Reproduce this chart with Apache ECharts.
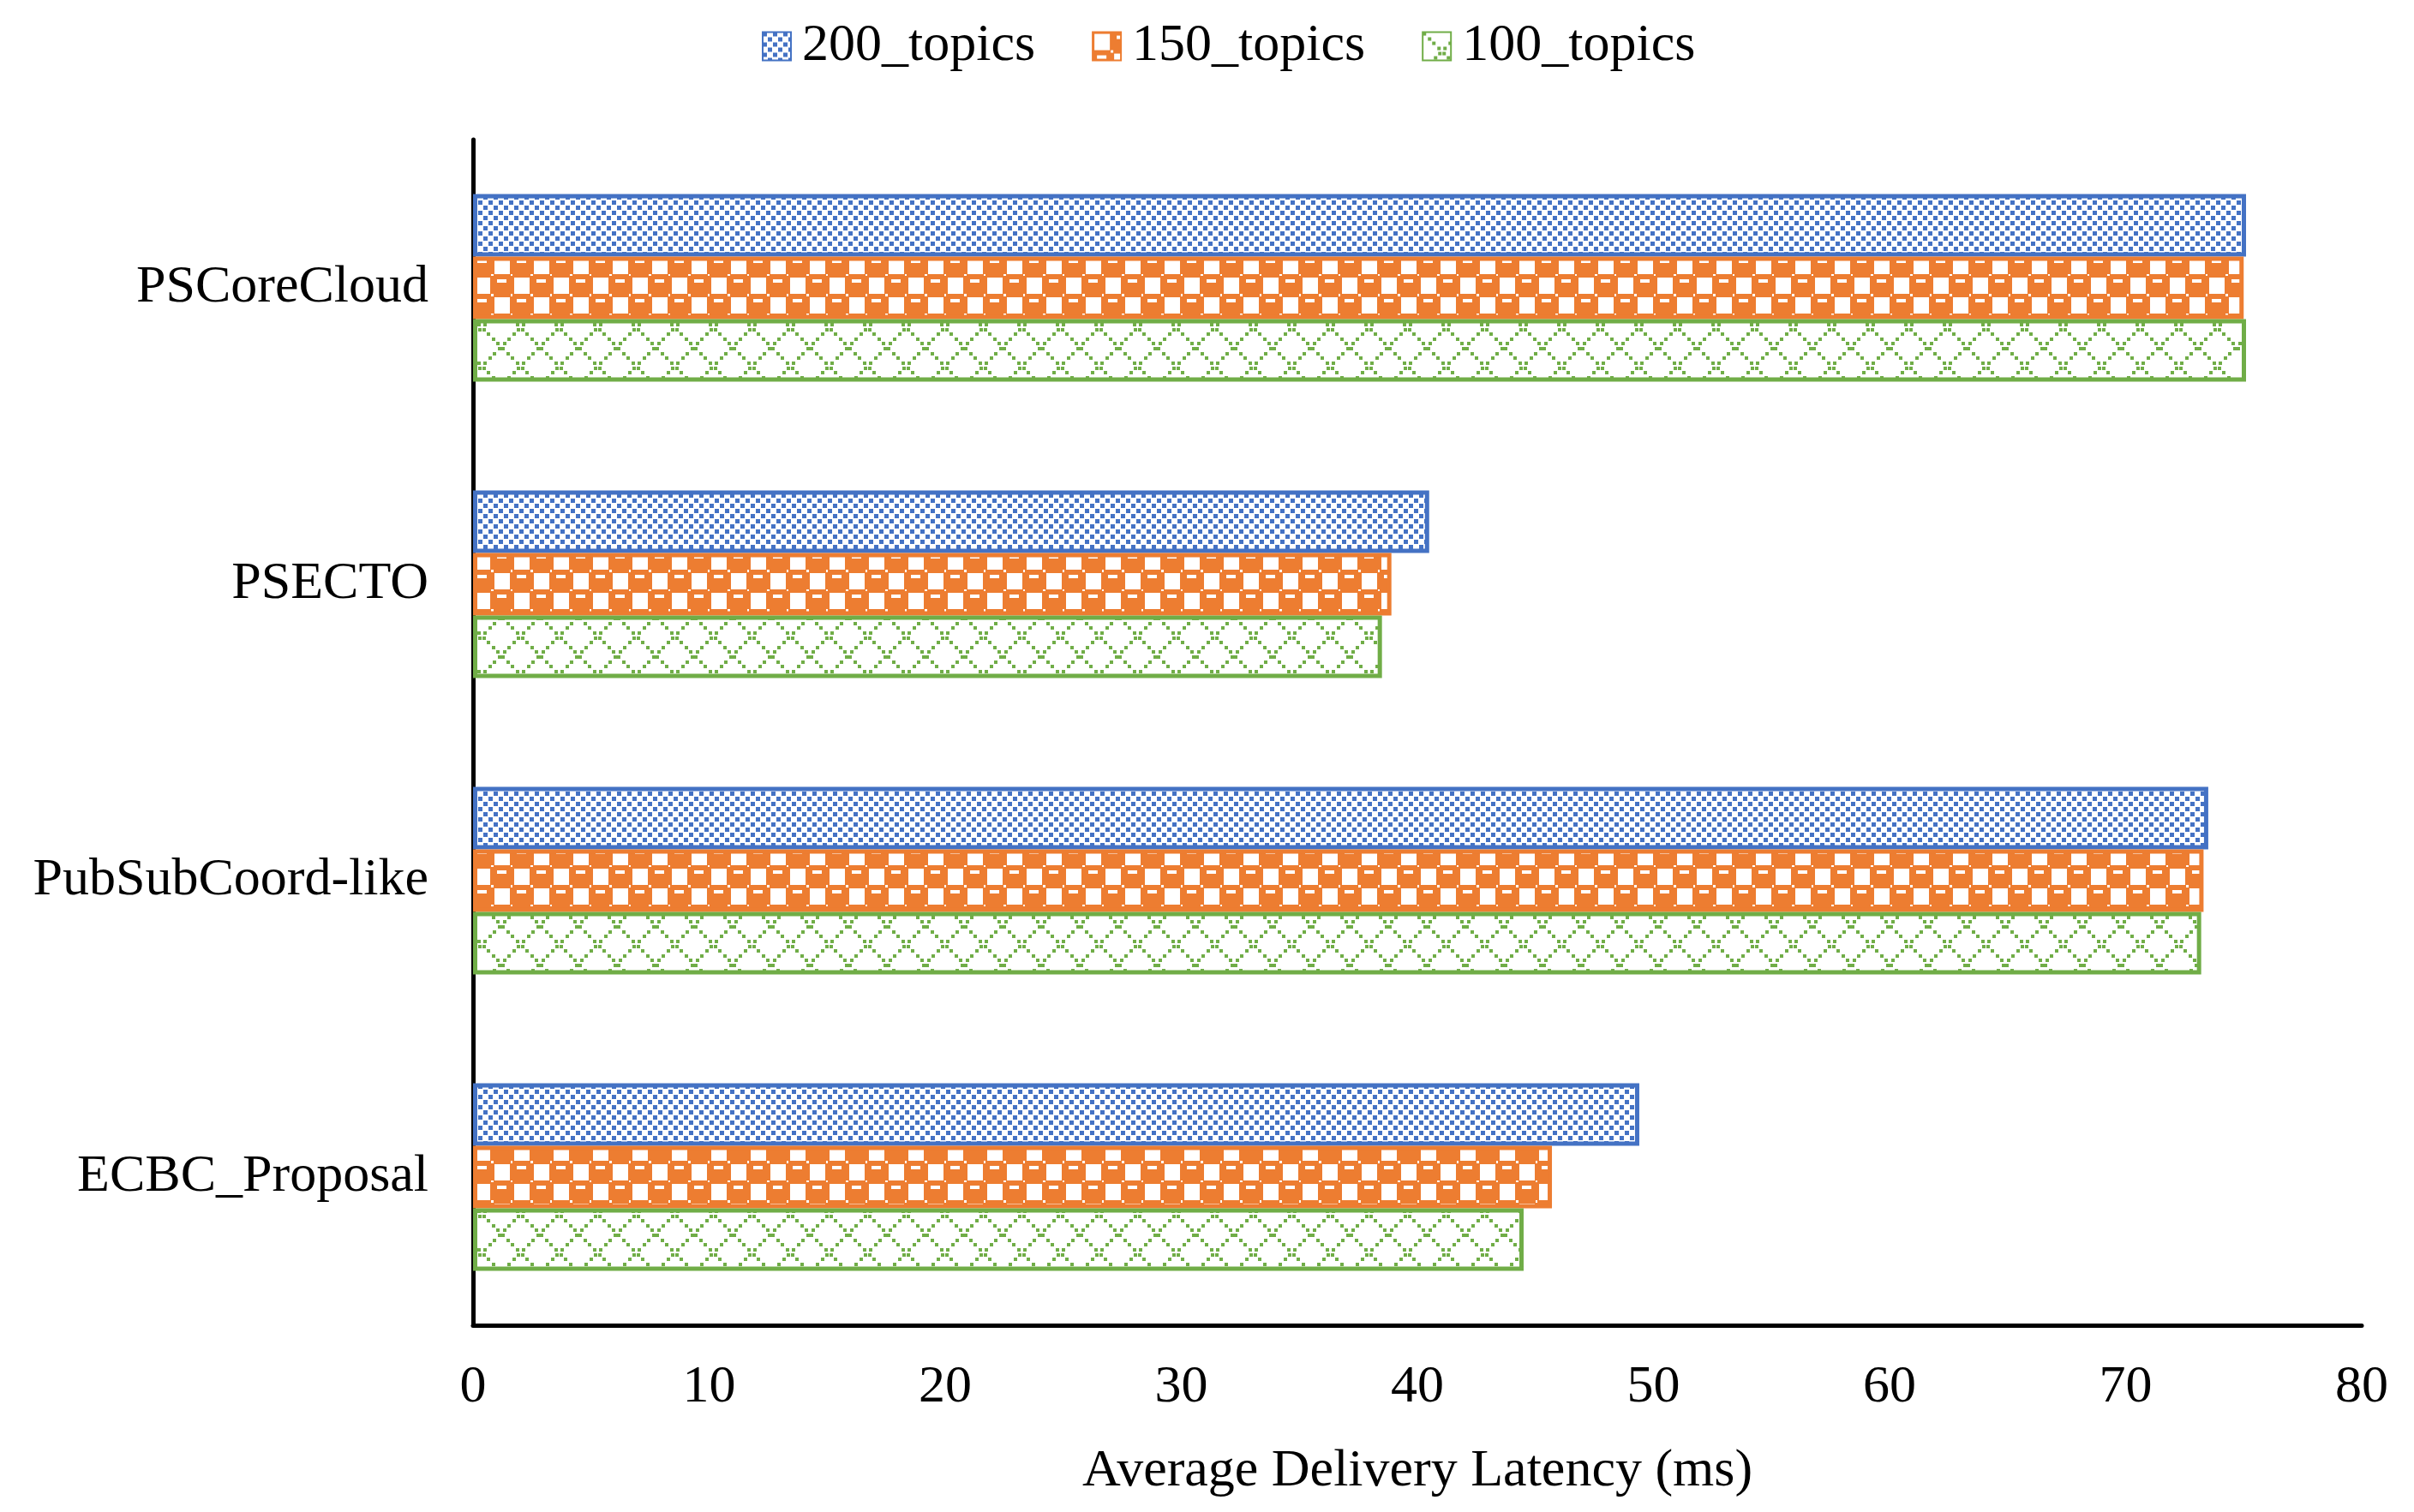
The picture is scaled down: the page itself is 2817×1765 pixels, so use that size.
<!DOCTYPE html>
<html>
<head>
<meta charset="utf-8">
<script src="https://cdn.jsdelivr.net/npm/echarts@6/dist/echarts.min.js"></script>
<style>
html,body{margin:0;padding:0;background:#fff;}
#chart{width:2817px;height:1765px;}
</style>
</head>
<body>
<div id="chart"></div>
<script>
// ---- data ----
const categories = ['PSCoreCloud', 'PSECTO', 'PubSubCoord-like', 'ECBC_Proposal'];
const seriesNames = ['200_topics', '150_topics', '100_topics'];
const topics200 = [75.1, 40.5, 73.5, 49.4];
const topics150 = [75.0, 38.9, 73.3, 45.7];
const topics100 = [75.1, 38.5, 73.2, 44.5];
const xTicks = [0, 10, 20, 30, 40, 50, 60, 70, 80];
const xAxisTitle = 'Average Delivery Latency (ms)';

// ---- patterns ----
function makeCanvas(w, h) {
  const c = document.createElement('canvas');
  c.width = w; c.height = h;
  return c;
}
function bluePattern() {
  const c = makeCanvas(12, 12), g = c.getContext('2d');
  g.fillStyle = '#fff'; g.fillRect(0, 0, 12, 12);
  g.fillStyle = '#4472C4';
  g.fillRect(0, 0, 5, 5);
  g.fillRect(6, 6, 5, 5);
  return c;
}
function orangePattern() {
  const c = makeCanvas(46, 46), g = c.getContext('2d');
  g.fillStyle = '#ED7D31'; g.fillRect(0, 0, 46, 46);
  g.fillStyle = '#fff';
  g.fillRect(2, 2, 18, 19);
  g.fillRect(25, 25, 18, 19);
  g.fillRect(28, 4, 11, 4);
  g.fillRect(5, 27, 11, 4);
  g.fillRect(21, 21, 3, 3);
  g.fillRect(44, 44, 2, 2);
  g.fillRect(21, 44, 3, 2);
  g.fillRect(44, 21, 2, 3);
  return c;
}
function greenPattern() {
  const s = 45;
  const c = makeCanvas(s, s), g = c.getContext('2d');
  g.fillStyle = '#fff'; g.fillRect(0, 0, s, s);
  g.fillStyle = '#70AD47';
  const step = s / 8;
  for (let i = 0; i < 8; i++) {
    const t = Math.round(i * step);
    g.fillRect(t, t, 4, 4);
    g.fillRect(Math.max(0, s - t - 4), t, 4, 4);
  }
  return c;
}

const colors = ['#4472C4', '#ED7D31', '#70AD47'];
const patterns = [bluePattern(), orangePattern(), greenPattern()];
const values = [topics200, topics150, topics100];
const FONT = '"Liberation Serif", "Times New Roman", serif';

const chart = echarts.init(document.getElementById('chart'), null, {renderer: 'canvas'});
chart.setOption({
  backgroundColor: '#fff',
  animation: false,
  textStyle: {fontFamily: FONT, color: '#000'},
  legend: {
    top: 18,
    left: 884,
    itemWidth: 33,
    itemHeight: 33,
    itemGap: 66,
    icon: 'rect',
    textStyle: {fontFamily: FONT, fontSize: 62, color: '#000', padding: [0, 0, 0, 8]},
    data: seriesNames
  },
  grid: {left: 552, right: 61, top: 163, bottom: 218, containLabel: false},
  xAxis: {
    type: 'value',
    min: xTicks[0],
    max: xTicks[xTicks.length - 1],
    interval: 10,
    axisLine: {show: true, lineStyle: {color: '#000', width: 5}},
    axisTick: {show: false},
    splitLine: {show: false},
    axisLabel: {fontFamily: FONT, fontSize: 62, color: '#000', margin: 42},
    name: xAxisTitle,
    nameLocation: 'middle',
    nameGap: 140,
    nameTextStyle: {fontFamily: FONT, fontSize: 62, color: '#000'}
  },
  yAxis: {
    type: 'category',
    inverse: true,
    data: categories,
    axisLine: {show: true, lineStyle: {color: '#000', width: 5}},
    axisTick: {show: false},
    axisLabel: {fontFamily: FONT, fontSize: 62, color: '#000', margin: 52}
  },
  series: seriesNames.map((name, i) => ({
    name: name,
    type: 'bar',
    data: values[i],
    barWidth: 73,
    barGap: '0%',
    itemStyle: {
      color: {image: patterns[i], repeat: 'repeat'},
      borderColor: colors[i],
      borderWidth: 5
    }
  }))
});
</script>
</body>
</html>
